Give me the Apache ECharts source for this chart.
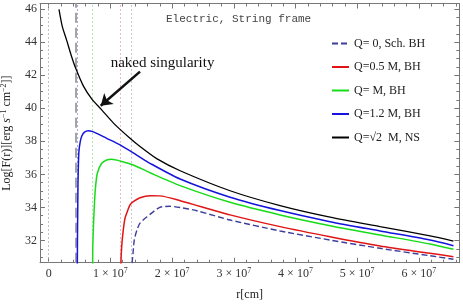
<!DOCTYPE html>
<html>
<head>
<meta charset="utf-8">
<script src="https://cdn.jsdelivr.net/npm/echarts@6/dist/echarts.min.js"></script>
<style>html,body{margin:0;padding:0;background:#fff}#c{width:463px;height:305px}</style>
</head>
<body>
<div id="c"></div>
<script>
// r in cm, F as Log[F(r)]
const rSch = [1.342e7,1.347e7,1.367e7,1.387e7,1.43e7,1.48e7,1.588e7,1.8e7,1.965e7,2.13e7,2.4e7,2.94e7,3.75e7,4.56e7,5.37e7,6.18e7,6.56e7];
const fSch = [29.0,30.4,31.23,32.03,32.64,33.05,33.42,34.0,34.07,34.0,33.8,33.24,32.58,32.03,31.53,31.08,30.87];

const rQ05 = [1.165e7,1.17e7,1.183e7,1.209e7,1.237e7,1.264e7,1.318e7,1.371e7,1.48e7,1.642e7,1.8e7,2.13e7,2.94e7,3.75e7,4.56e7,5.37e7,6.18e7,6.56e7];
const fQ05 = [29.0,30.6,31.63,32.64,33.35,33.65,34.15,34.35,34.59,34.71,34.7,34.41,33.55,32.84,32.23,31.67,31.23,31.02];

const rQ1 = [0.711e7,0.714e7,0.723e7,0.734e7,0.755e7,0.788e7,0.859e7,0.94e7,1.021e7,1.156e7,1.371e7,1.642e7,2.13e7,2.94e7,3.75e7,4.56e7,5.37e7,6.18e7,6.56e7];
const fQ1 = [29.0,31.5,32.64,33.65,35.06,36.07,36.67,36.87,36.91,36.81,36.57,36.1,35.32,34.31,33.55,32.9,32.34,31.79,31.47];

const rQ12 = [0.462e7,0.466e7,0.47e7,0.475e7,0.482e7,0.49e7,0.51e7,0.535e7,0.58e7,0.642e7,0.7e7,0.778e7,0.94e7,1.156e7,1.426e7,1.642e7,2.13e7,2.94e7,3.75e7,4.56e7,5.37e7,6.18e7,6.56e7];
const fQ12 = [29.0,32.0,33.65,35.5,36.7,37.4,37.95,38.3,38.55,38.64,38.6,38.48,38.18,37.78,37.17,36.67,35.72,34.62,33.81,33.14,32.58,32.03,31.69];

const rNS = [0.167e7,0.22e7,0.292e7,0.36e7,0.438e7,0.561e7,0.7e7,0.859e7,1.05e7,1.318e7,1.48e7,1.75e7,2.13e7,2.94e7,3.75e7,4.56e7,5.37e7,6.18e7,6.56e7];
const fNS = [45.98,44.95,44.1,43.25,42.41,41.35,40.55,39.9,39.1,38.18,37.68,36.95,36.22,35.01,34.11,33.41,32.84,32.28,31.97];

const names = ['Q= 0, Sch. BH','Q=0.5 M, BH','Q= M, BH','Q=1.2 M, BH','Q=\u221A2  M, NS'];

// ticks
const xMajor = [0,1e7,2e7,3e7,4e7,5e7,6e7];
const xMinor = [0.2e7,0.4e7,0.6e7,0.8e7,1.2e7,1.4e7,1.6e7,1.8e7,2.2e7,2.4e7,2.6e7,2.8e7,3.2e7,3.4e7,3.6e7,3.8e7,4.2e7,4.4e7,4.6e7,4.8e7,5.2e7,5.4e7,5.6e7,5.8e7,6.2e7,6.4e7,6.6e7];
const yMajor = [32,34,36,38,40,42,44,46];
const yMinor = [31,31.5,32.5,33,33.5,34.5,35,35.5,36.5,37,37.5,38.5,39,39.5,40.5,41,41.5,42.5,43,43.5,44.5,45,45.5];

// vertical reference lines (r in cm)
const vLines = [0, 0.44e7, 0.464e7, 0.712e7, 1.165e7, 1.335e7];

// annotation
const annText = 'naked singularity';
const annPos = [1.845e7, 42.75];
const arrowFrom = [1.48e7, 42.21];
const arrowTo = [0.843e7, 40.15];

const XMIN = -0.141e7, XMAX = 6.655e7, YMIN = 30.66, YMAX = 46.33;
const serif = 'Liberation Serif';
const frameColor = '#777';

function xAx(pos, vals, len, line, labels) {
  return {
    type: 'value', position: pos, min: XMIN, max: XMAX,
    axisLine: {show: line, onZero: false, lineStyle: {color: frameColor, width: 1}},
    axisTick: {show: true, inside: true, length: len, customValues: vals, lineStyle: {color: frameColor}},
    axisLabel: labels ? {
      show: true, customValues: xMajor, margin: 4, color: '#333', fontFamily: serif, fontSize: 12, lineHeight: 14,
      formatter: v => v === 0 ? '0' : (Math.round(v / 1e7) + ' \u00D7 10{sup|7}'),
      rich: {sup: {fontSize: 8, lineHeight: 9, verticalAlign: 'top', fontFamily: serif, color: '#333'}}
    } : {show: false},
    splitLine: {show: false}
  };
}
function yAx(pos, vals, len, line, labels) {
  return {
    type: 'value', position: pos, min: YMIN, max: YMAX,
    axisLine: {show: line, onZero: false, lineStyle: {color: frameColor, width: 1}},
    axisTick: {show: true, inside: true, length: len, customValues: vals, lineStyle: {color: frameColor}},
    axisLabel: labels ? {show: true, customValues: yMajor, margin: 3, color: '#333', fontFamily: serif, fontSize: 12} : {show: false},
    splitLine: {show: false}
  };
}

const xAxes = [xAx('bottom', xMajor, 5, true, true), xAx('bottom', xMinor, 3, false, false), xAx('top', xMajor, 5, true, false), xAx('top', xMinor, 3, false, false)];
xAxes[0].name = 'r[cm]';
xAxes[0].nameLocation = 'middle';
xAxes[0].nameGap = 26;
xAxes[0].nameTextStyle = {fontFamily: serif, fontSize: 12, color: '#222'};

const yAxes = [yAx('left', yMajor, 5, true, true), yAx('left', yMinor, 3, false, false), yAx('right', yMajor, 5, true, false), yAx('right', yMinor, 3, false, false)];
yAxes[0].name = 'Log[F(r)][erg {it|s}{sup|\u22121} cm{sup|\u22122}]]';
yAxes[0].nameLocation = 'middle';
yAxes[0].nameGap = 22;
yAxes[0].nameTextStyle = {fontFamily: serif, fontSize: 12, color: '#222', lineHeight: 14,
  rich: {sup: {fontSize: 8, lineHeight: 9, verticalAlign: 'top', fontFamily: serif, color: '#222'}, it: {fontStyle: 'italic', fontFamily: serif, fontSize: 12, color: '#222'}}};

const pair = (r, f) => r.map((v, i) => [v, f[i]]);
const vColors = ['#aaaaaa', '#a4a4a4', '#8c8cd8', '#9ade9a', '#e8a0a0', '#b4b4c8'];

function line(name, data, color, width, type, extra) {
  return Object.assign({
    name, type: 'line', data, showSymbol: false, symbol: 'none', smooth: 0.25,
    xAxisIndex: 0, yAxisIndex: 0, clip: true, z: 3,
    lineStyle: {color, width, type}, itemStyle: {color}
  }, extra || {});
}

const option = {
  animation: false,
  textStyle: {fontFamily: serif},
  grid: {left: 40, right: 3.7, top: 3.5, bottom: 42.3, outerBoundsMode: 'none', containLabel: false},
  title: {text: 'Electric, String frame', left: 161, top: 9, textStyle: {fontFamily: 'Liberation Mono', fontSize: 11, fontWeight: 'normal', color: '#444'}},
  legend: {
    orient: 'vertical', left: 331, top: 37.5, itemWidth: 17, itemHeight: 12, itemGap: 11.5, padding: 0, itemTextGap: 5,
    textStyle: {fontFamily: serif, fontSize: 12, color: '#222'},
    itemStyle: {opacity: 0, borderWidth: 0},
    data: names
  },
  xAxis: xAxes,
  yAxis: yAxes,
  series: [
    line(names[0], pair(rSch, fSch), '#3d3d9c', 1.4, [6, 3], {
      markLine: {
        silent: true, symbol: 'none', z: 1, label: {show: false}, animation: false,
        data: vLines.map((v, i) => ({xAxis: v, lineStyle: {color: vColors[i], width: i === 1 ? 2 : 1, type: i === 1 ? [10, 5] : [1.5, 2.5]}}))
      }
    }),
    line(names[1], pair(rQ05, fQ05), '#e01414', 1.5, 'solid'),
    line(names[2], pair(rQ1, fQ1), '#18dc18', 1.5, 'solid'),
    line(names[3], pair(rQ12, fQ12), '#1414dc', 1.5, 'solid'),
    line(names[4], pair(rNS, fNS), '#000000', 1.3, 'solid', {
      markLine: {
        silent: true, symbol: ['none', 'arrow'], symbolSize: 11, label: {show: false}, animation: false,
        lineStyle: {color: '#111', width: 2.5, type: 'solid'},
        data: [[{coord: arrowFrom}, {coord: arrowTo}]]
      },
      markPoint: {
        silent: true, symbol: 'circle', symbolSize: 0,
        label: {show: true, position: 'inside', formatter: annText, fontFamily: serif, fontSize: 15, color: '#111'},
        data: [{coord: annPos}]
      }
    })
  ]
};
echarts.init(document.getElementById('c')).setOption(option);
</script>
</body>
</html>
